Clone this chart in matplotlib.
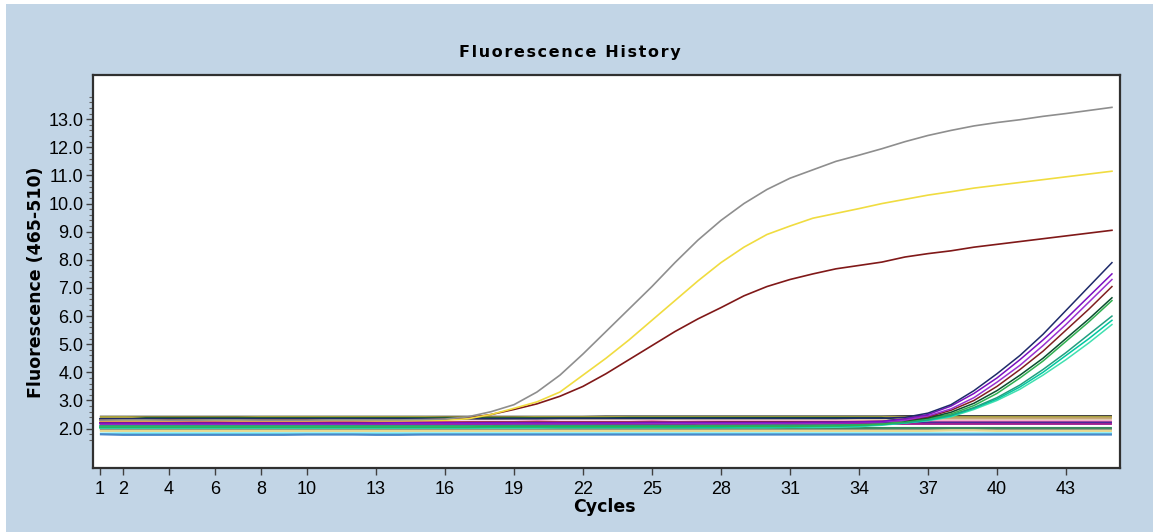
import numpy as np
import matplotlib.pyplot as plt
from matplotlib.patches import Rectangle

# ── Data ───────────────────────────────────────────────────────────────────
cycles = list(range(1, 46))
x_ticks = [1, 2, 4, 6, 8, 10, 13, 16, 19, 22, 25, 28, 31, 34, 37, 40, 43]
y_ticks = [2, 3, 4, 5, 6, 7, 8, 9, 10, 11, 12, 13]

# early amplifiers (sigmoids)
gray_curve = [2.30, 2.31, 2.31, 2.30, 2.30, 2.31, 2.31, 2.30, 2.30, 2.30,
              2.31, 2.31, 2.31, 2.31, 2.32, 2.34, 2.42, 2.60, 2.85, 3.30,
              3.90, 4.65, 5.45, 6.25, 7.05, 7.90, 8.70, 9.40, 10.00, 10.50,
              10.90, 11.20, 11.50, 11.72, 11.95, 12.20, 12.42, 12.60, 12.76, 12.88,
              12.98, 13.10, 13.20, 13.31, 13.42]
yellow_curve = [2.28, 2.28, 2.28, 2.28, 2.29, 2.29, 2.28, 2.28, 2.28, 2.28,
                2.29, 2.29, 2.28, 2.28, 2.29, 2.30, 2.35, 2.50, 2.72, 2.95,
                3.30, 3.90, 4.50, 5.15, 5.85, 6.55, 7.25, 7.90, 8.45, 8.90,
                9.20, 9.48, 9.65, 9.82, 10.00, 10.15, 10.30, 10.42, 10.55, 10.65,
                10.75, 10.85, 10.95, 11.05, 11.15]
darkred_curve = [2.30, 2.30, 2.30, 2.31, 2.31, 2.30, 2.30, 2.30, 2.31, 2.31,
                 2.30, 2.30, 2.31, 2.31, 2.31, 2.33, 2.38, 2.50, 2.68, 2.88,
                 3.15, 3.50, 3.95, 4.45, 4.95, 5.45, 5.90, 6.30, 6.72, 7.05,
                 7.30, 7.50, 7.68, 7.80, 7.92, 8.10, 8.22, 8.32, 8.45, 8.55,
                 8.65, 8.75, 8.85, 8.95, 9.05]

# late amplifiers (cycle ~36 onwards)
late_navy = [2.35, 2.35, 2.35, 2.35, 2.35, 2.35, 2.35, 2.35, 2.35, 2.35,
             2.35, 2.35, 2.35, 2.35, 2.35, 2.35, 2.35, 2.35, 2.35, 2.35,
             2.36, 2.36, 2.36, 2.36, 2.36, 2.36, 2.36, 2.36, 2.36, 2.36,
             2.36, 2.36, 2.36, 2.37, 2.37, 2.40, 2.55, 2.85, 3.35, 3.95,
             4.60, 5.35, 6.20, 7.05, 7.90]
late_purple = [2.20, 2.20, 2.20, 2.20, 2.20, 2.20, 2.20, 2.20, 2.20, 2.20,
               2.20, 2.20, 2.20, 2.21, 2.21, 2.21, 2.21, 2.21, 2.21, 2.21,
               2.21, 2.21, 2.21, 2.21, 2.22, 2.22, 2.22, 2.22, 2.22, 2.22,
               2.22, 2.23, 2.23, 2.24, 2.26, 2.35, 2.50, 2.80, 3.25, 3.80,
               4.45, 5.15, 5.90, 6.70, 7.50]
late_violet = [2.17, 2.17, 2.17, 2.17, 2.17, 2.17, 2.17, 2.17, 2.17, 2.17,
               2.17, 2.17, 2.18, 2.18, 2.18, 2.18, 2.18, 2.18, 2.18, 2.18,
               2.18, 2.18, 2.19, 2.19, 2.19, 2.19, 2.19, 2.19, 2.19, 2.19,
               2.20, 2.20, 2.21, 2.22, 2.24, 2.30, 2.45, 2.70, 3.10, 3.65,
               4.25, 4.95, 5.70, 6.50, 7.30]
late_maroon = [2.22, 2.22, 2.22, 2.22, 2.22, 2.22, 2.22, 2.22, 2.22, 2.22,
               2.22, 2.22, 2.22, 2.22, 2.22, 2.22, 2.23, 2.23, 2.23, 2.23,
               2.23, 2.23, 2.23, 2.23, 2.23, 2.23, 2.23, 2.24, 2.24, 2.24,
               2.24, 2.24, 2.24, 2.25, 2.26, 2.30, 2.42, 2.65, 3.00, 3.50,
               4.10, 4.75, 5.50, 6.25, 7.05]
late_dkgreen = [2.33, 2.33, 2.38, 2.38, 2.38, 2.38, 2.38, 2.38, 2.38, 2.38,
                2.38, 2.38, 2.38, 2.38, 2.38, 2.38, 2.38, 2.38, 2.38, 2.38,
                2.38, 2.38, 2.38, 2.39, 2.39, 2.39, 2.39, 2.39, 2.39, 2.39,
                2.39, 2.39, 2.39, 2.39, 2.39, 2.28, 2.38, 2.58, 2.90, 3.35,
                3.90, 4.50, 5.20, 5.90, 6.65]
late_green = [2.06, 2.06, 2.06, 2.06, 2.06, 2.06, 2.06, 2.06, 2.06, 2.06,
              2.06, 2.06, 2.06, 2.06, 2.06, 2.06, 2.06, 2.07, 2.07, 2.07,
              2.07, 2.07, 2.07, 2.07, 2.07, 2.07, 2.08, 2.08, 2.08, 2.08,
              2.08, 2.09, 2.10, 2.12, 2.16, 2.25, 2.35, 2.52, 2.82, 3.25,
              3.80, 4.40, 5.10, 5.80, 6.55]
late_teal = [2.10, 2.10, 2.10, 2.10, 2.10, 2.10, 2.10, 2.10, 2.10, 2.10,
             2.10, 2.10, 2.10, 2.10, 2.10, 2.10, 2.10, 2.10, 2.11, 2.11,
             2.11, 2.11, 2.11, 2.11, 2.11, 2.11, 2.11, 2.11, 2.11, 2.12,
             2.12, 2.12, 2.13, 2.14, 2.16, 2.22, 2.32, 2.48, 2.75, 3.10,
             3.55, 4.10, 4.70, 5.35, 6.00]
late_cyan = [2.04, 2.04, 2.04, 2.04, 2.04, 2.04, 2.04, 2.04, 2.04, 2.04,
             2.04, 2.04, 2.04, 2.04, 2.04, 2.04, 2.04, 2.05, 2.05, 2.05,
             2.05, 2.05, 2.05, 2.05, 2.05, 2.05, 2.05, 2.05, 2.06, 2.06,
             2.06, 2.07, 2.08, 2.10, 2.14, 2.20, 2.30, 2.45, 2.72, 3.05,
             3.48, 4.00, 4.60, 5.20, 5.85]
late_aqua = [2.02, 2.02, 2.02, 2.02, 2.02, 2.02, 2.02, 2.02, 2.02, 2.02,
             2.02, 2.02, 2.02, 2.02, 2.02, 2.02, 2.02, 2.02, 2.02, 2.02,
             2.03, 2.03, 2.03, 2.03, 2.03, 2.03, 2.03, 2.03, 2.03, 2.03,
             2.04, 2.04, 2.05, 2.07, 2.12, 2.20, 2.28, 2.42, 2.68, 3.00,
             3.40, 3.90, 4.45, 5.05, 5.70]

# non-amplifying wells (baseline band)
flat_black = [2.42, 2.42, 2.42, 2.42, 2.42, 2.42, 2.42, 2.42, 2.42, 2.42,
              2.42, 2.42, 2.42, 2.42, 2.42, 2.42, 2.42, 2.42, 2.42, 2.42,
              2.42, 2.42, 2.43, 2.43, 2.43, 2.43, 2.43, 2.43, 2.43, 2.43,
              2.43, 2.43, 2.43, 2.43, 2.43, 2.44, 2.44, 2.44, 2.44, 2.44,
              2.44, 2.44, 2.44, 2.44, 2.44]
flat_olive = [2.41, 2.41, 2.40, 2.40, 2.40, 2.40, 2.40, 2.41, 2.41, 2.41,
              2.41, 2.41, 2.41, 2.41, 2.41, 2.40, 2.40, 2.40, 2.40, 2.41,
              2.41, 2.41, 2.41, 2.41, 2.41, 2.41, 2.41, 2.41, 2.41, 2.41,
              2.41, 2.41, 2.41, 2.41, 2.41, 2.41, 2.41, 2.41, 2.41, 2.41,
              2.41, 2.41, 2.41, 2.41, 2.41]
flat_tan = [2.34, 2.34, 2.34, 2.34, 2.34, 2.34, 2.35, 2.35, 2.35, 2.35,
            2.35, 2.35, 2.35, 2.35, 2.35, 2.35, 2.35, 2.35, 2.36, 2.36,
            2.36, 2.36, 2.36, 2.36, 2.36, 2.36, 2.36, 2.36, 2.36, 2.36,
            2.36, 2.36, 2.36, 2.36, 2.36, 2.36, 2.36, 2.36, 2.36, 2.36,
            2.36, 2.36, 2.36, 2.36, 2.36]
flat_pink = [2.25, 2.24, 2.24, 2.24, 2.24, 2.24, 2.24, 2.24, 2.24, 2.24,
             2.24, 2.26, 2.24, 2.24, 2.24, 2.24, 2.24, 2.24, 2.24, 2.26,
             2.24, 2.24, 2.24, 2.24, 2.26, 2.24, 2.25, 2.25, 2.25, 2.25,
             2.25, 2.25, 2.25, 2.25, 2.25, 2.25, 2.25, 2.25, 2.25, 2.25,
             2.25, 2.25, 2.25, 2.25, 2.25]
flat_navy = [2.19, 2.19, 2.19, 2.19, 2.19, 2.19, 2.19, 2.19, 2.19, 2.19,
             2.19, 2.19, 2.19, 2.19, 2.19, 2.19, 2.19, 2.20, 2.20, 2.20,
             2.20, 2.20, 2.20, 2.20, 2.20, 2.20, 2.20, 2.21, 2.21, 2.21,
             2.21, 2.21, 2.21, 2.21, 2.21, 2.21, 2.21, 2.21, 2.21, 2.21,
             2.21, 2.21, 2.21, 2.21, 2.21]
flat_magenta = [2.15, 2.15, 2.15, 2.15, 2.15, 2.15, 2.15, 2.15, 2.15, 2.15,
                2.15, 2.15, 2.15, 2.15, 2.15, 2.16, 2.16, 2.16, 2.16, 2.16,
                2.16, 2.16, 2.16, 2.16, 2.16, 2.16, 2.17, 2.17, 2.17, 2.17,
                2.17, 2.17, 2.17, 2.17, 2.17, 2.17, 2.17, 2.17, 2.17, 2.17,
                2.17, 2.17, 2.17, 2.17, 2.17]
flat_seagreen = [2.01, 2.01, 2.01, 2.01, 2.01, 2.01, 2.02, 2.02, 2.01, 2.02,
                 2.02, 2.02, 2.02, 2.02, 2.02, 2.02, 2.02, 2.02, 2.02, 2.02,
                 2.02, 2.02, 2.02, 2.02, 2.02, 2.02, 2.02, 2.02, 2.02, 2.02,
                 2.02, 2.02, 2.02, 2.02, 2.02, 2.02, 2.02, 2.02, 2.02, 2.02,
                 2.02, 2.02, 2.02, 2.02, 2.02]
flat_gray = [1.96, 1.96, 1.96, 1.96, 1.96, 1.96, 1.96, 1.97, 1.97, 1.96,
             1.96, 1.96, 1.96, 1.96, 1.96, 1.96, 1.96, 1.96, 1.96, 1.96,
             1.96, 1.96, 1.96, 1.96, 1.96, 1.95, 1.95, 1.95, 1.95, 1.95,
             1.95, 1.95, 1.95, 1.95, 1.95, 1.95, 1.95, 1.95, 1.95, 1.95,
             1.95, 1.95, 1.95, 1.95, 1.95]
flat_khaki = [1.92, 1.92, 1.92, 1.92, 1.92, 1.92, 1.92, 1.92, 1.92, 1.92,
              1.92, 1.92, 1.92, 1.92, 1.92, 1.92, 1.92, 1.92, 1.92, 1.92,
              1.92, 1.92, 1.92, 1.92, 1.92, 1.92, 1.92, 1.92, 1.92, 1.92,
              1.92, 1.92, 1.92, 1.92, 1.92, 1.92, 1.92, 1.94, 1.94, 1.92,
              1.92, 1.92, 1.92, 1.92, 1.92]
flat_cyan = [1.82, 1.83, 1.83, 1.83, 1.83, 1.83, 1.83, 1.83, 1.83, 1.83,
             1.83, 1.83, 1.83, 1.83, 1.83, 1.83, 1.83, 1.83, 1.83, 1.83,
             1.83, 1.83, 1.83, 1.83, 1.83, 1.83, 1.83, 1.83, 1.83, 1.83,
             1.83, 1.83, 1.83, 1.83, 1.83, 1.83, 1.83, 1.83, 1.83, 1.83,
             1.83, 1.83, 1.83, 1.83, 1.83]
flat_blue = [1.80, 1.78, 1.78, 1.78, 1.78, 1.78, 1.78, 1.78, 1.78, 1.79,
             1.79, 1.79, 1.78, 1.78, 1.79, 1.79, 1.79, 1.79, 1.79, 1.79,
             1.79, 1.79, 1.79, 1.79, 1.79, 1.79, 1.79, 1.79, 1.79, 1.79,
             1.79, 1.79, 1.79, 1.79, 1.79, 1.79, 1.79, 1.79, 1.79, 1.79,
             1.79, 1.79, 1.79, 1.79, 1.79]

# ── Styling ────────────────────────────────────────────────────────────────
BG = "#c2d5e6"
flat_series = [
    (flat_black, "#2a2a2a"), (flat_olive, "#a8a040"), (flat_tan, "#c8a878"),
    (flat_pink, "#f060a0"), (flat_navy, "#2c2ca0"), (flat_magenta, "#a02090"),
    (flat_seagreen, "#3a8a60"), (flat_gray, "#7a8a7a"), (flat_khaki, "#e8d890"),
    (flat_cyan, "#70e8f0"), (flat_blue, "#4a88c8"),
]
late_series = [
    (late_aqua, "#40e0b0"), (late_cyan, "#00c8a0"), (late_teal, "#20a080"),
    (late_green, "#30b050"), (late_dkgreen, "#0a5030"), (late_maroon, "#802020"),
    (late_violet, "#9a30d0"), (late_purple, "#7a10c0"), (late_navy, "#1e2a6a"),
]
early_series = [
    (darkred_curve, "#801818"), (yellow_curve, "#f0dc40"), (gray_curve, "#8e8e8e"),
]

W, H = 1153, 532
fig = plt.figure(figsize=(W / 100, H / 100), dpi=100)
fig.patch.set_facecolor("white")
fig.add_artist(Rectangle((6 / W, 0), 1, 1 - 4 / H, transform=fig.transFigure,
                         facecolor=BG, edgecolor="none", zorder=-10))

ax = fig.add_axes([93 / W, 1 - 468 / H, (1120 - 93) / W, (468 - 75) / H])
ax.set_facecolor("white")

for vals, col in flat_series:
    ax.plot(cycles, vals, color=col, linewidth=1.6, solid_capstyle="butt")
for vals, col in late_series:
    ax.plot(cycles, vals, color=col, linewidth=1.1)
for vals, col in early_series:
    ax.plot(cycles, vals, color=col, linewidth=1.2)

ax.set_xlim(0.70, 45.35)
ax.set_ylim(0.60, 14.57)
ax.set_xticks(x_ticks)
ax.set_xticklabels([str(t) for t in x_ticks])
ax.set_yticks(y_ticks)
ax.set_yticklabels([f"{t:.1f}" for t in y_ticks])
ax.set_yticks(np.arange(1.6, 13.81, 0.2), minor=True)

lab_font = ["Liberation Sans", "DejaVu Sans"]
for lab in ax.get_xticklabels() + ax.get_yticklabels():
    lab.set_family(lab_font)
    lab.set_fontsize(13)
ax.tick_params(axis="both", which="major", direction="out", length=5,
               width=1, color="#404040", pad=2)
ax.tick_params(axis="x", pad=4)
ax.tick_params(axis="y", which="minor", direction="out", length=3,
               width=0.8, color="#606060")
for sp in ax.spines.values():
    sp.set_color("#303030")
    sp.set_linewidth(1.6)

# title is drawn letter-spaced, like the instrument software does
title = "\u200a".join("Fluorescence History")
fig.text(570 / W, 1 - 52 / H, title, ha="center", va="center",
         fontsize=11.5, fontweight="bold", family=["DejaVu Sans"])
fig.text(36 / W, 1 - 282 / H, "Fluorescence (465-510)", ha="center",
         va="center", rotation=90, fontsize=12.5, fontweight="bold")
fig.text(604 / W, 1 - 507 / H, "Cycles", ha="center", va="center",
         fontsize=12.5, fontweight="bold")

fig.savefig("out.png", dpi=100, facecolor=fig.get_facecolor())
